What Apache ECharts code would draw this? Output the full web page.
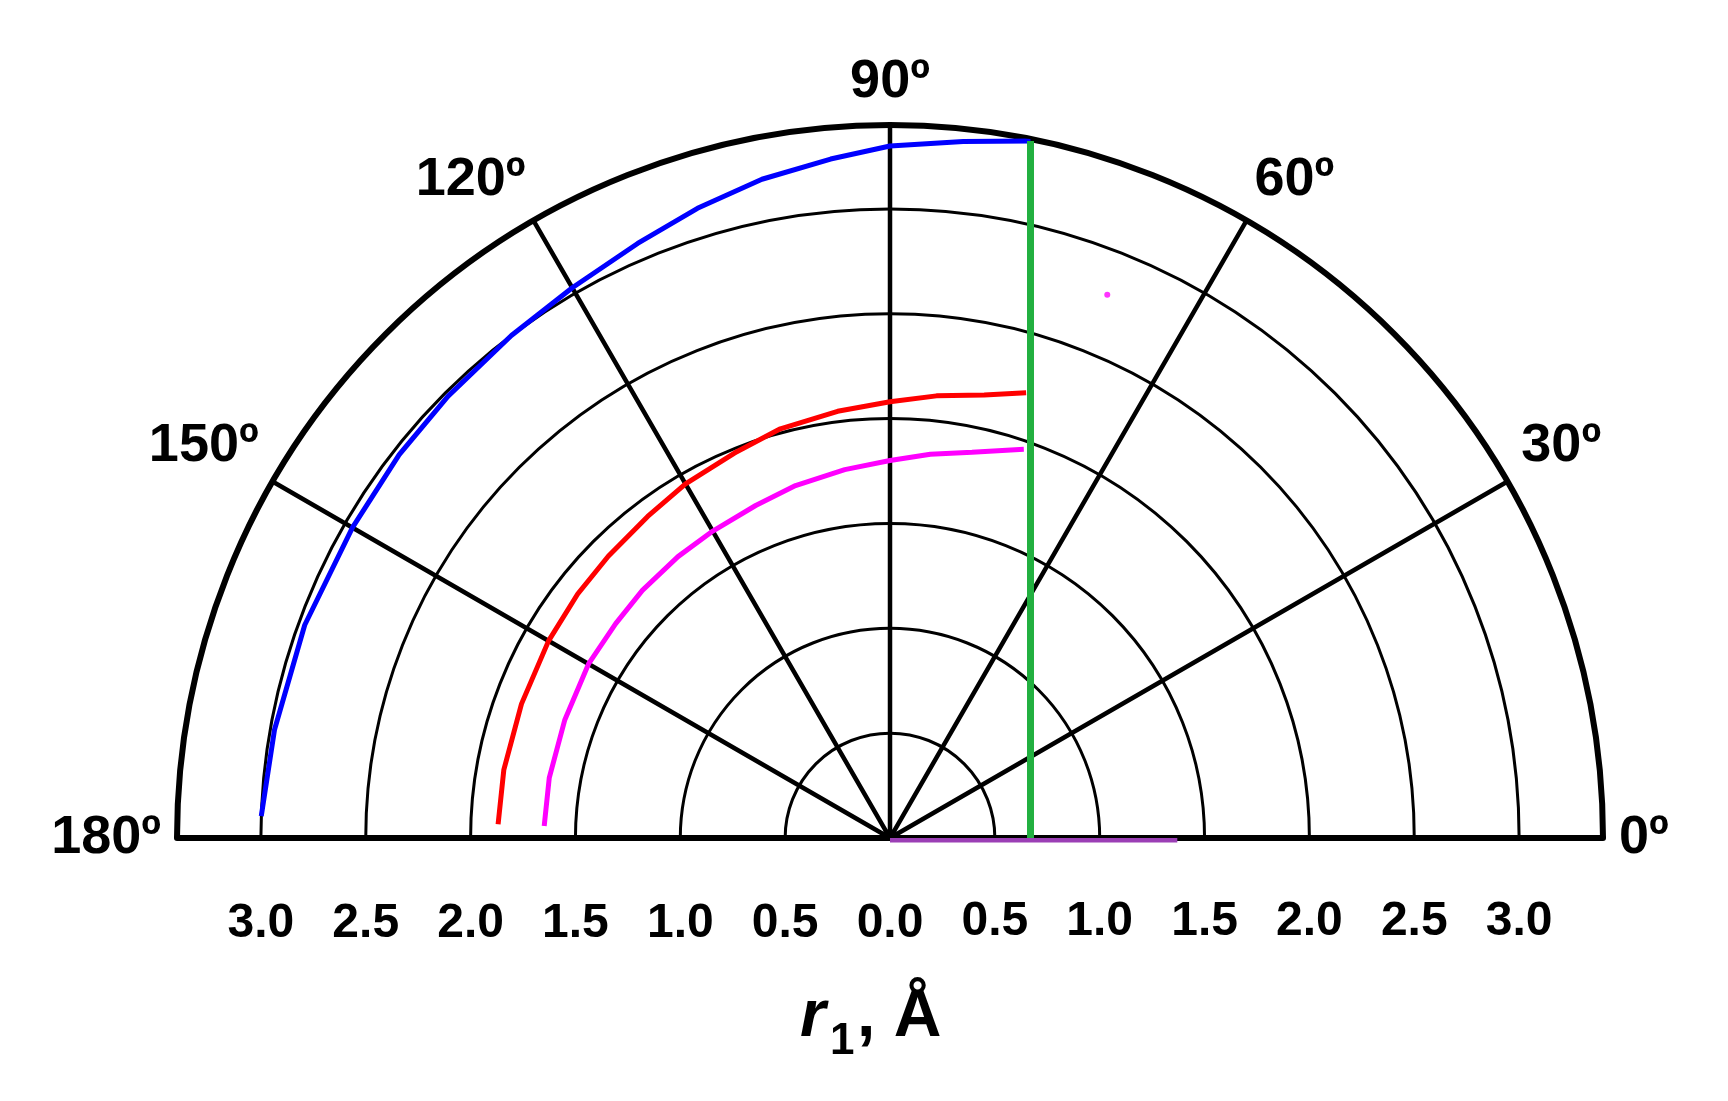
<!DOCTYPE html>
<html><head><meta charset="utf-8">
<script src="https://cdn.jsdelivr.net/npm/echarts@6/dist/echarts.min.js"></script>
<style>html,body{margin:0;background:#fff}#chart{width:1728px;height:1101px}</style>
</head><body><div id="chart"></div>
<script>
var blue=[[3.0,178],[2.98,170],[2.97,160],[2.96,150],[2.97,142],[2.98,135],[3.0,127],[3.03,120],[3.08,113],[3.14,107],[3.2,101],[3.25,95],[3.3,90],[3.34,84],[3.39,78.6]];
var red=[[1.87,178],[1.87,170],[1.87,160],[1.88,150],[1.89,142],[1.9,135],[1.92,127],[1.95,120],[1.98,112],[2.02,105],[2.05,97],[2.08,90],[2.12,84],[2.16,78],[2.22,73]];
var magenta=[[1.65,178],[1.65,170],[1.65,160],[1.66,150],[1.66,142],[1.67,135],[1.68,127],[1.69,120],[1.71,112],[1.74,105],[1.77,97],[1.8,90],[1.84,84],[1.88,78],[1.96,71]];
var green=[[0.67,0],[3.39,78.6]];
var purple=[[0,0],[1.37,0]];
var dot=[[2.79,68.2]];

var center=['890px','838px'], rad=713;
var font={fontFamily:'Liberation Sans',fontWeight:'bold',fontSize:48,color:'#000'};
function fmt(v){return v.toFixed(1);}
var option={
  animation:false,
  polar:[{center:center,radius:rad},{center:center,radius:rad},{center:center,radius:rad}],
  angleAxis:[{
    polarIndex:0,type:'value',min:0,max:180,interval:30,startAngle:0,endAngle:180,clockwise:false,
    axisLine:{lineStyle:{color:'#000',width:6}},
    axisTick:{show:false},
    axisLabel:Object.assign({formatter:'{value}º',margin:16},font,{fontSize:54}),
    splitLine:{lineStyle:{color:'#000',width:4.5}}
  },{
    polarIndex:1,type:'value',min:0,max:180,startAngle:180,endAngle:0,clockwise:true,show:false
  },{
    polarIndex:2,type:'value',min:0,max:180,startAngle:0,endAngle:-180,clockwise:true,show:false
  }],
  radiusAxis:[{
    polarIndex:0,min:0,max:3.4,interval:0.5,
    axisLine:{show:false},
    axisTick:{show:false},axisLabel:{show:false},
    splitLine:{lineStyle:{color:'#000',width:3}}
  },{
    polarIndex:1,min:0,max:3.4,interval:0.5,
    axisLine:{lineStyle:{color:'#000',width:6}},
    axisTick:{show:false},
    axisLabel:Object.assign({formatter:fmt,margin:62,showMaxLabel:false},font),
    splitLine:{show:false}
  },{
    polarIndex:2,min:0,max:3.4,interval:0.5,
    axisLine:{lineStyle:{color:'#000',width:6}},
    axisTick:{show:false},
    axisLabel:Object.assign({formatter:fmt,margin:-108,showMaxLabel:false,showMinLabel:false},font),
    splitLine:{show:false}
  }],
  graphic:[{type:'text',left:800,top:985,style:{text:'r',font:'italic bold 66px Liberation Sans',fill:'#000'}},
           {type:'text',left:830,top:1020,style:{text:'1',font:'bold 44px Liberation Sans',fill:'#000'}},
           {type:'text',left:857,top:985,style:{text:', Å',font:'bold 66px Liberation Sans',fill:'#000'}}],
  series:[
    {type:'line',coordinateSystem:'polar',polarIndex:0,z:10,data:blue,symbol:'none',lineStyle:{color:'#0000ff',width:5}},
    {type:'line',coordinateSystem:'polar',polarIndex:0,z:10,data:red,symbol:'none',lineStyle:{color:'#ff0000',width:5}},
    {type:'line',coordinateSystem:'polar',polarIndex:0,z:10,data:magenta,symbol:'none',lineStyle:{color:'#ff00ff',width:5}},
    {type:'line',coordinateSystem:'polar',polarIndex:0,z:10,clip:false,data:green,symbol:'none',lineStyle:{color:'#22b040',width:7}},
    {type:'line',coordinateSystem:'polar',polarIndex:2,z:11,clip:false,data:purple,symbol:'none',lineStyle:{color:'#9b3fb5',width:9}},
    {type:'scatter',coordinateSystem:'polar',polarIndex:0,z:10,data:dot,symbolSize:6,itemStyle:{color:'#ff00ff'}}
  ]
};
echarts.init(document.getElementById('chart')).setOption(option);
</script></body></html>
